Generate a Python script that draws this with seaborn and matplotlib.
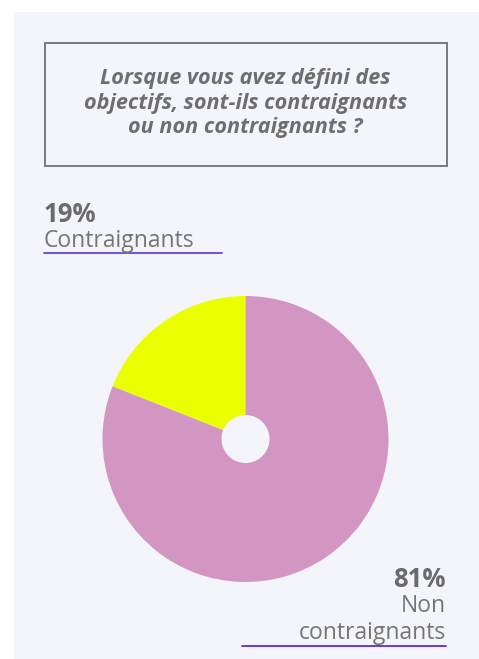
import matplotlib
matplotlib.use("Agg")
import matplotlib.pyplot as plt
import seaborn as sns
from matplotlib.patches import Rectangle
from matplotlib.lines import Line2D

# ---- data ----
categories = ["Contraignants", "Non contraignants"]
values = [19, 81]
value_labels = ["19%", "81%"]
colors = ["#eaff00", "#d396c3"]
title_text = "Lorsque vous avez défini des\nobjectifs, sont-ils contraignants\nou non contraignants ?"

sns.set_theme(style="white")
plt.rcParams["font.family"] = ["Open Sans", "DejaVu Sans"]

W, H = 479, 659
fig = plt.figure(figsize=(W / 100, H / 100), dpi=100)
fig.patch.set_facecolor("white")

def fx(x):
    return x / W

def fy(y):
    return 1 - y / H

# background panel
fig.patches.append(Rectangle((fx(14), fy(659)), fx(465), 647 / H, transform=fig.transFigure,
                             facecolor="#f4f5fa", edgecolor="none", zorder=-5))
# title box
fig.patches.append(Rectangle((fx(44.5), fy(166)), fx(402), 123 / H, transform=fig.transFigure,
                             facecolor="none", edgecolor="#7a7a7a", linewidth=1.4, zorder=1))
fig.text(fx(245.5), fy(103), title_text, ha="center", va="center", fontsize=15.6,
         fontweight="bold", fontstyle="italic", color="#6e6e6e", linespacing=1.2)

# pie
cx, cy, r = 245.5, 439, 143
ax = fig.add_axes([fx(cx - r), (H - cy - r) / H, 2 * r / W, 2 * r / H], zorder=2)
ax.patch.set_alpha(0)
ax.pie(values, colors=colors, startangle=90, counterclock=True,
       wedgeprops=dict(width=1 - 24 / 143, edgecolor="none"), radius=1)
ax.set_xlim(-1, 1)
ax.set_ylim(-1, 1)
ax.set_aspect("equal")
ax.axis("off")

# labels
grey = "#6b6b6b"
fig.text(fx(44), fy(222), value_labels[0], ha="left", va="baseline", fontsize=18.5,
         fontweight="bold", color=grey)
fig.text(fx(44), fy(247), categories[0], ha="left", va="baseline", fontsize=16.5, color="#757575")
fig.lines.append(Line2D([fx(44), fx(222)], [fy(252.5), fy(252.5)], transform=fig.transFigure,
                        color="#5a36e0", linewidth=1.2))

fig.text(fx(446), fy(587), value_labels[1], ha="right", va="baseline", fontsize=18.5,
         fontweight="bold", color=grey)
fig.text(fx(446), fy(639), "Non\ncontraignants", ha="right", va="baseline", fontsize=16.5,
         color="#757575", linespacing=1.15, multialignment="right")
fig.lines.append(Line2D([fx(242), fx(446)], [fy(645.5), fy(645.5)], transform=fig.transFigure,
                        color="#4a1ae0", linewidth=1.2))

fig.savefig("out.png", dpi=100, facecolor=fig.get_facecolor())
